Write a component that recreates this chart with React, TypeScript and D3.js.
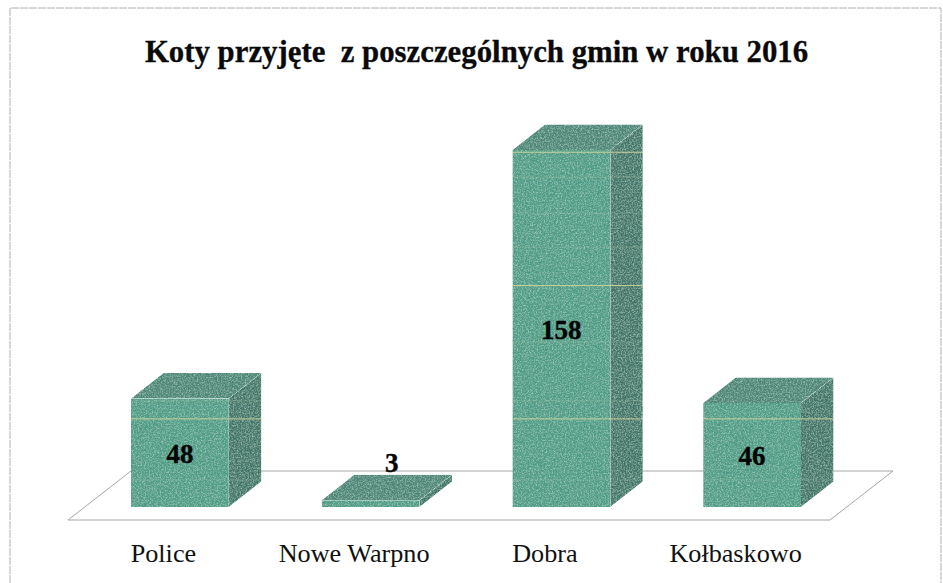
import React from "react";
import * as d3 from "d3";

const categories = ["Police", "Nowe Warpno", "Dobra", "Kołbaskowo"];
const values = [48, 3, 158, 46];
const gridValues = [39, 98, 157];
const faintGridValues = [12, 47, 73, 115, 130, 146];
const title = "Koty przyjęte  z poszczególnych gmin w roku 2016";

const W = 943;
const H = 583;
const depthX = 32.5;
const depthY = 25.5;
const FRONT = "#4a9c84";
const TOP = "#478473";
const SIDE = "#3b7264";
const LINE = "#a6a6a6";
const FONT = "'Liberation Serif', 'Times New Roman', serif";

const x = d3.scaleBand<string>().domain(categories).range([131, 801]).paddingInner(0.487).paddingOuter(0);
const y = d3.scaleLinear().domain([0, 158]).range([507, 150]);

const poly = d3.line<[number, number]>().curve(d3.curveLinearClosed);

export default function App() {
  const bw = x.bandwidth();
  const base = y(0);
  const floor: [number, number][] = [[68, 520], [830, 520], [893, 471], [131, 471]];
  return (
    <svg width={W} height={H} viewBox={`0 0 ${W} ${H}`} style={{ position: "absolute", left: 0, top: 0, background: "#fff" }}>
      <defs>
        <filter id="grain" x="0" y="0" width="100%" height="100%">
          <feTurbulence type="fractalNoise" baseFrequency="0.75" numOctaves={2} seed={4} result="n" />
          <feColorMatrix in="n" type="matrix" values="0 0 0 0 0.7  0 0 0 0 0.88  0 0 0 0 0.8  1.2 0 0 0 -0.52" result="light" />
          <feColorMatrix in="n" type="matrix" values="0 0 0 0 0.14  0 0 0 0 0.34  0 0 0 0 0.3  0 1.2 0 0 -0.54" result="dark" />
          <feMerge result="m">
            <feMergeNode in="SourceGraphic" />
            <feMergeNode in="light" />
            <feMergeNode in="dark" />
          </feMerge>
          <feComposite in="m" in2="SourceAlpha" operator="in" />
        </filter>
      </defs>

      <path d={`M10,${H} V8 H941 V${H}`} fill="none" stroke="#b0b0b0" strokeWidth={1} strokeDasharray="8 1" />

      <text x={476.5} y={62} textAnchor="middle" fontFamily={FONT} fontWeight="bold" fontSize={30.8} fill="#0a0a0a" stroke="#0a0a0a" strokeWidth={0.3} style={{ whiteSpace: "pre" }}>
        {title}
      </text>

      <path d={poly(floor) ?? ""} fill="#fff" stroke={LINE} strokeWidth={1} />

      {categories.map((c, i) => {
        const x0 = x(c) as number;
        const x1 = x0 + bw;
        const t = y(values[i]);
        const front: [number, number][] = [[x0, t], [x1, t], [x1, base], [x0, base]];
        const top: [number, number][] = [[x0, t], [x0 + depthX, t - depthY], [x1 + depthX, t - depthY], [x1, t]];
        const side: [number, number][] = [[x1, t], [x1 + depthX, t - depthY], [x1 + depthX, base - depthY], [x1, base]];
        const lines = (vals: number[]) => vals.filter((v) => v < values[i]);
        return (
          <g key={c}>
            <path d={poly(side) ?? ""} fill={SIDE} filter="url(#grain)" />
            <path d={poly(top) ?? ""} fill={TOP} filter="url(#grain)" />
            <path d={poly(front) ?? ""} fill={FRONT} filter="url(#grain)" />
            {lines(faintGridValues).map((v) => (
              <line key={v} x1={x0} x2={x1 + depthX} y1={y(v)} y2={y(v)} stroke="#a8c8a8" strokeOpacity={0.3} strokeWidth={1} />
            ))}
            {lines(gridValues).map((v) => (
              <line key={v} x1={x0} x2={x1 + depthX} y1={y(v)} y2={y(v)} stroke="#d9d89a" strokeOpacity={0.85} strokeWidth={1} />
            ))}
          </g>
        );
      })}

      {categories.map((c, i) => {
        const x0 = x(c) as number;
        const t = y(values[i]);
        const small = values[i] < 10;
        const lx = small ? x0 + bw / 2 + 21 : x0 + bw / 2;
        const ly = small ? t - 28 : (t + base) / 2 + 10;
        return (
          <text key={c} x={lx} y={ly} textAnchor="middle" fontFamily={FONT} fontWeight="bold" fontSize={27} fill="#050505" stroke="#050505" strokeWidth={0.4}>
            {values[i]}
          </text>
        );
      })}

      {categories.map((c) => (
        <text key={c} x={(x(c) as number) + bw / 2 - 16.5} y={562} textAnchor="middle" fontFamily={FONT} fontSize={26.2} fill="#111">
          {c}
        </text>
      ))}
    </svg>
  );
}
